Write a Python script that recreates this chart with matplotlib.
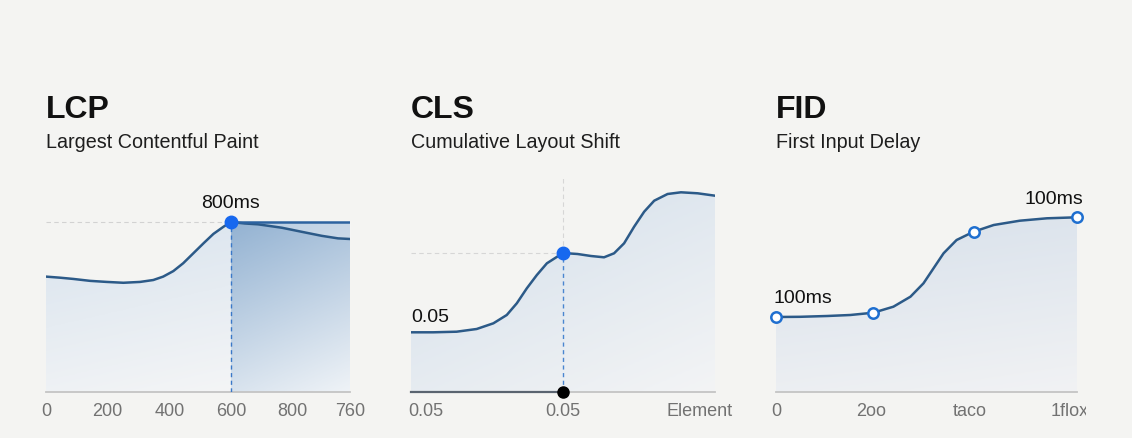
import numpy as np
import matplotlib
matplotlib.use("Agg")
import matplotlib.pyplot as plt
from matplotlib.colors import LinearSegmentedColormap
from matplotlib.transforms import Bbox, TransformedBbox

plt.rcParams['font.family'] = ['Liberation Sans', 'DejaVu Sans']

# ---- data ----
titles = ["LCP", "CLS", "FID"]
subtitles = ["Largest Contentful Paint", "Cumulative Layout Shift", "First Input Delay"]

lcp_x = [0, 45, 89, 143, 197, 251, 305, 348, 380, 413, 445, 478, 511, 543, 576, 600,
         645, 688, 765, 829, 894, 947, 986]
lcp_y = [543, 538, 532, 523, 518, 514, 518, 527, 543, 569, 606, 653, 700, 744, 778, 800,
         793, 789, 773, 754, 735, 723, 720]
lcp_peak = (600, 800)
lcp_ticks = [0, 200, 400, 600, 800, 986]
lcp_ticklabels = ["0", "200", "400", "600", "800", "760"]

cls_x = [0, 0.073, 0.150, 0.216, 0.271, 0.315, 0.348, 0.381, 0.414, 0.447, 0.5,
         0.548, 0.592, 0.635, 0.668, 0.701, 0.734, 0.767, 0.800, 0.844, 0.888, 0.943, 1.0]
cls_y = [0.0597, 0.0597, 0.0603, 0.063, 0.0687, 0.077, 0.0887, 0.1037, 0.117, 0.1287, 0.139,
         0.138, 0.136, 0.1347, 0.1387, 0.1487, 0.1653, 0.1803, 0.1913, 0.198, 0.1997, 0.1987, 0.1963]
cls_point = (0.5, 0.139)
cls_ticks = [0.05, 0.5, 0.95]
cls_ticklabels = ["0.05", "0.05", "Element"]

fid_x = [0, 0.24, 0.51, 0.74, 0.97, 1.17, 1.34, 1.47, 1.57, 1.67, 1.80, 1.97, 2.17, 2.43, 2.70, 3.0]
fid_y = [75, 75.2, 76, 77, 79.3, 85.3, 95.3, 108.7, 123.7, 138.7, 152, 160.3, 167, 171.3, 173.7, 174.7]
fid_mx = [0, 0.97, 1.97, 3.0]
fid_my = [75, 79.3, 160.3, 174.7]
fid_ticks = [0, 0.95, 1.93, 2.93]
fid_ticklabels = ["0", "2oo", "taco", "1flox"]

LINE = "#2c5a88"
BG = "#f4f4f2"
W, H = 1132, 438


def gradient_fill(ax, x, y_top, y_bot, c1, c2, diag=0.0, z=1):
    poly = ax.fill_between(x, y_bot, y_top, color="none", lw=0)
    v = np.linspace(0, 1, 120)[:, None]
    u = np.linspace(0, 1, 120)[None, :]
    g = np.clip((1 - diag) * v + diag * u, 0, 1)
    cmap = LinearSegmentedColormap.from_list("g", [c1, c2])
    top = np.max(y_top)
    im = ax.imshow(g, extent=[min(x), max(x), 0, top], origin="upper",
                   aspect="auto", cmap=cmap, vmin=0, vmax=1, zorder=z)
    im.set_clip_path(poly.get_paths()[0], transform=ax.transData)


fig = plt.figure(figsize=(W / 100, H / 100), dpi=100, facecolor=BG)

lefts = [46, 411, 776]
rights = [350, 715, 1077]
ylims = [222 * 800 / 170, 0.222, 222]
axes = []
for i in range(3):
    ax = fig.add_axes([lefts[i] / W, (H - 392) / H, (rights[i] - lefts[i]) / W, 222 / H])
    ax.set_facecolor("none")
    for s in ["top", "right", "left"]:
        ax.spines[s].set_visible(False)
    ax.spines["bottom"].set_color("#c4c4c4")
    ax.spines["bottom"].set_linewidth(1.3)
    ax.set_yticks([])
    ax.tick_params(axis="x", length=0, pad=8, labelsize=13, labelcolor="#727272")
    fig.text(lefts[i] / W, 1 - 118 / H, titles[i], fontsize=23, fontweight="bold",
             color="#111111", va="baseline")
    fig.text(lefts[i] / W, 1 - 148 / H, subtitles[i], fontsize=14.2, color="#1e1e1e",
             va="baseline")
    axes.append(ax)

# ---- LCP ----
ax = axes[0]
lx = np.array(lcp_x)
ly = np.array(lcp_y)
left = lx <= lcp_peak[0]
gradient_fill(ax, lx[left], ly[left], 0, "#d8e3ee", "#f4f5f6", diag=0.2)
gradient_fill(ax, [lcp_peak[0], lx[-1]], [lcp_peak[1], lcp_peak[1]], 0,
              "#93b2d2", "#eff3f7", diag=0.25)
right = lx >= lcp_peak[0]
ax.fill_between(lx[right], ly[right], lcp_peak[1], color="white", alpha=0.35, lw=0, zorder=2)
ax.plot(lx, ly, color=LINE, lw=1.8, zorder=3, solid_capstyle="round")
ax.plot([lcp_peak[0], lx[-1]], [lcp_peak[1], lcp_peak[1]], color="#2d63a0", lw=1.8, zorder=3)
ax.plot([0, lcp_peak[0]], [lcp_peak[1], lcp_peak[1]], color="#d2d2d2", lw=0.8,
        ls=(0, (4, 3)), zorder=2)
ax.plot([lcp_peak[0], lcp_peak[0]], [0, lcp_peak[1]], color="#3a78c8", lw=1.0,
        ls=(0, (3, 2.5)), zorder=3)
ax.plot(*lcp_peak, "o", color="#1768ef", ms=9, zorder=4, clip_on=False)
ax.text(lcp_peak[0], lcp_peak[1] + 14 * 800 / 170, "800ms", ha="center", va="baseline",
        fontsize=14, color="#111111")
ax.set_xlim(0, 986)
ax.set_ylim(0, ylims[0])
ax.set_xticks(lcp_ticks, lcp_ticklabels)

# ---- CLS ----
ax = axes[1]
gradient_fill(ax, cls_x, cls_y, 0, "#d3dfeb", "#f3f4f5", diag=0.4)
ax.plot(cls_x, cls_y, color=LINE, lw=1.8, zorder=3, solid_capstyle="round")
px, py = cls_point
ax.plot([0, px], [py, py], color="#d6d6d6", lw=0.8, ls=(0, (4, 3)), zorder=2)
ax.plot([px, px], [py, 0.214], color="#d6d6d6", lw=0.8, ls=(0, (4, 3)), zorder=2)
ax.plot([px, px], [0, py], color="#4a86d0", lw=1.0, ls=(0, (3, 2.5)), zorder=3)
ax.plot([0, px], [0, 0], color="#5a6470", lw=1.6, zorder=3, clip_on=False)
ax.plot(px, py, "o", color="#1768ef", ms=9, zorder=4)
ax.plot(px, 0, "o", color="black", ms=8, zorder=5, clip_on=False)
ax.text(0, 0.070, "0.05", ha="left", va="baseline", fontsize=14, color="#111111")
ax.set_xlim(0, 1)
ax.set_ylim(0, ylims[1])
ax.set_xticks(cls_ticks, cls_ticklabels)

# ---- FID ----
ax = axes[2]
gradient_fill(ax, fid_x, fid_y, 0, "#d8e1eb", "#f1f2f4", diag=0.2)
ax.plot(fid_x, fid_y, color=LINE, lw=1.8, zorder=3, solid_capstyle="round")
ax.plot(fid_mx, fid_my, "o", ls="none", mfc="white", mec="#1f6fd0", mew=1.8, ms=7.5,
        zorder=4, clip_on=False)
ax.text(-0.02, 89, "100ms", ha="left", va="baseline", fontsize=14, color="#111111")
ax.text(3.06, 188, "100ms", ha="right", va="baseline", fontsize=14, color="#111111")
ax.set_xlim(0, 3)
ax.set_ylim(0, ylims[2])
ax.set_xticks(fid_ticks, fid_ticklabels)
clip = TransformedBbox(Bbox([[0, 0], [1086 / W, 1]]), fig.transFigure)
for lbl in ax.get_xticklabels():
    lbl.set_clip_box(clip)
    lbl.set_clip_on(True)

fig.savefig("out.png", dpi=100, facecolor=BG)
